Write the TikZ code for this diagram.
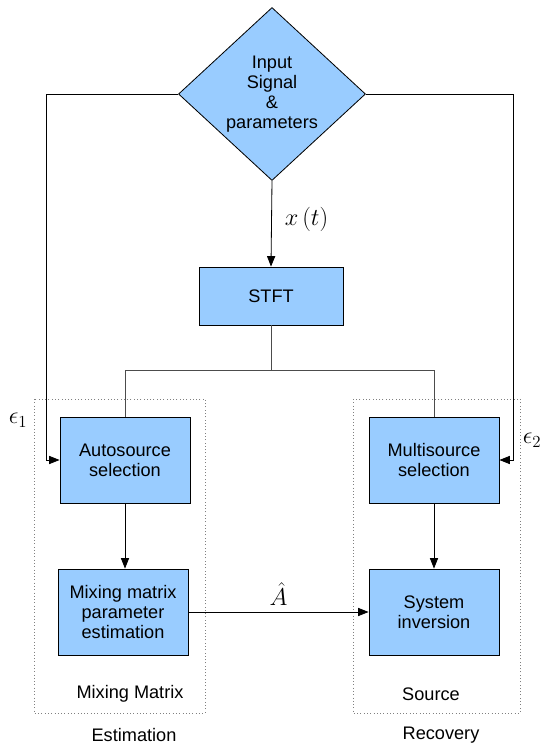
\documentclass[tikz,border=0pt]{standalone}
\usepackage[no-math]{fontspec}
\setmainfont{Liberation Sans}
\usetikzlibrary{shapes.geometric}
\usetikzlibrary{arrows.meta}
\definecolor{boxblue}{HTML}{99CCFF}

\begin{document}
\begin{tikzpicture} [
    x = 0.03cm, y = -0.03cm,
    line width = 0.7pt,
    txt/.style = {font = \fontsize{15.5}{17}\selectfont},
    sym/.style = {font = \fontsize{21}{23}\selectfont, inner sep = 1pt},
    block/.style = {draw, fill = boxblue, txt, align = center,
        minimum width = 3.9cm, minimum height = 2.58cm, inner sep = 2pt},
    flow/.style = {-{Triangle[length = 9pt, width = 7pt]}},
    group/.style = {draw = gray, dotted, line width = 0.8pt}
]
\useasboundingbox (0, 0) rectangle (543, 744);

% groups
\draw [group] (34, 399) rectangle (205, 713);
\draw [group] (353, 399) rectangle (520, 713);

% blocks
\node (input) at (272, 94) [draw, diamond, fill = boxblue, txt, align = center,
    minimum width = 5.61cm, minimum height = 5.19cm, inner sep = 0pt]
    {\\[-6pt]Input\\Signal\\\&\\parameters};
\node (stft) at (271, 296) [block, minimum width = 4.32cm, minimum height = 1.74cm] {STFT};
\node (auto) at (125, 460) [block] {Autosource\\selection};
\node (multi) at (434, 460) [block] {Multisource\\selection};
\node (mix) at (123, 612) [block] {Mixing matrix\\parameter\\estimation};
\node (sysinv) at (434, 612) [block] {System\\inversion};

% connectors
\draw [flow] (input.south) -- node [right, xshift = 10pt, yshift = 4pt, sym] {$x\,(t)$} (stft.north);
\draw [flow] (input.west) -| (46, 460) -- (auto.west);
\draw [flow] (input.east) -| (513, 460) -- (multi.east);
\draw [draw = black!70] (stft.south) -- (271, 370) -| (auto.north);
\draw [draw = black!70] (271, 370) -| (multi.north);
\draw [flow] (auto.south) -- (auto.south |- mix.north);
\draw [flow] (multi.south) -- (sysinv.north);
\draw [flow] (mix.east) -- node [above, yshift = 4pt, sym] {$\hat{A}$} (sysinv.west);

% labels
\node at (18, 420) [sym] {$\epsilon_1$};
\node at (532, 440) [sym] {$\epsilon_2$};
\node at (130, 694) [txt] {Mixing Matrix};
\node at (431, 694) [txt] {Source};
\node at (134, 735) [txt] {Estimation};
\node at (441, 735) [txt] {Recovery};

\end{tikzpicture}
\end{document}
